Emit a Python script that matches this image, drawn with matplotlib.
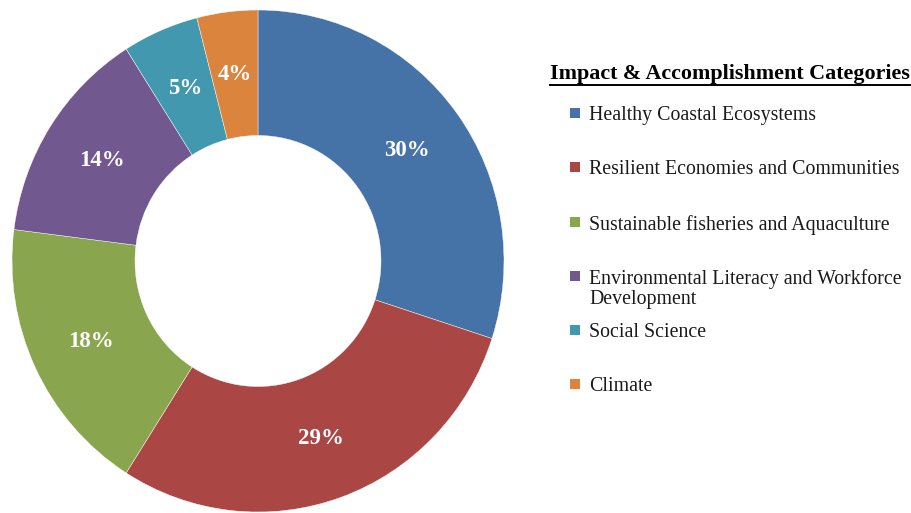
import matplotlib.pyplot as plt
from matplotlib.patches import Rectangle
from matplotlib.lines import Line2D

categories = ['Healthy Coastal Ecosystems',
              'Resilient Economies and Communities',
              'Sustainable fisheries and Aquaculture',
              'Environmental Literacy and Workforce\nDevelopment',
              'Social Science',
              'Climate']
shares = [30, 29, 18, 14, 5, 4]
colors = ['#4572A7', '#AA4643', '#89A54E', '#71588F', '#4198AF', '#DB843D']
legend_title = 'Impact & Accomplishment Categories'

W, H = 911, 513
plt.rcParams['font.family'] = ['Liberation Serif', 'DejaVu Serif']

fig = plt.figure(figsize=(W / 100, H / 100), dpi=100)

# donut: center (258, 261) px, radii 246 x 251 px
cx, cy, rx, ry = 258, 261, 246, 251
ax = fig.add_axes([(cx - rx) / W, (H - cy - ry) / H, 2 * rx / W, 2 * ry / H])
wedges, texts, autotexts = ax.pie(
    shares, colors=colors, startangle=90, counterclock=False,
    autopct='%d%%', pctdistance=0.75,
    wedgeprops=dict(width=0.5, edgecolor='white', linewidth=0.3),
    textprops=dict(color='white', fontsize=16.5, fontweight='bold'))
ax.set_xlim(-1, 1)
ax.set_ylim(-1, 1)
ax.set_aspect('auto')
ax.axis('off')


def px(x, y):
    return x / W, (H - y) / H


# legend, laid out by hand
tx, ty = px(550, 74)
title = fig.text(tx, ty, legend_title, fontsize=15.8, fontweight='bold',
                 va='center', ha='left')
fig.canvas.draw()
bb = title.get_window_extent(fig.canvas.get_renderer())
uy = (bb.y0 - 1) / H
fig.add_artist(Line2D([bb.x0 / W, bb.x1 / W], [uy, uy], color='black',
                      linewidth=1.4, transform=fig.transFigure))

item_y = [113, 167, 222, 276, 330, 384]
for label, w, yy in zip(categories, wedges, item_y):
    sx, sy = px(570, yy + 5)
    fig.add_artist(Rectangle((sx, sy), 10 / W, 10 / H, facecolor=w.get_facecolor(),
                             edgecolor='none', transform=fig.transFigure))
    lx, ly = px(589, yy - 7)
    fig.text(lx, ly, label, fontsize=14.3, va='top', ha='left',
             color='#1a1a1a', linespacing=1.05)

fig.savefig('out.png', dpi=100)
